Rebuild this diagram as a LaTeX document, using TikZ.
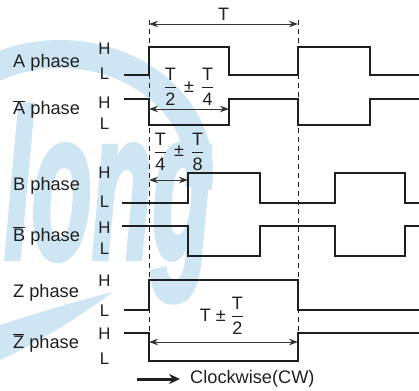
\documentclass[tikz,border=0pt]{standalone}
\usepackage{fontspec}
\setmainfont{Liberation Sans}
\newfontfamily\markfont[FakeBold=3]{Liberation Sans Bold Italic}
\usepackage{xcolor}
\usepackage{tikz}
\usetikzlibrary{arrows.meta}
\definecolor{markcolor}{RGB}{206,229,244}
\colorlet{wavecolor}{black!88}
\colorlet{dimcolor}{black!80}
\newcommand{\barred}[1]{\ensuremath{\overline{\mbox{#1}}}}
\newcommand{\frc}[2]{\ensuremath{{\displaystyle\mbox{\rule[-5pt]{0pt}{13pt}#1}\above1.3pt\mbox{\rule{0pt}{16pt}#2}}}}
\tikzset{
	 wave/.style	 = {draw = wavecolor, line width = 1.8pt}
	,guide/.style	 = {draw = wavecolor, line width = 1pt, dash pattern = on 5pt off 4pt}
	,dim/.style		 = {draw = dimcolor, line width = 0.9pt,
						{Stealth[length=9pt,width=6.5pt]}-{Stealth[length=9pt,width=6.5pt]}}
	,phase/.style	 = {anchor = base west, inner sep = 0pt, text = wavecolor, font = \fontsize{18.2}{20}\selectfont}
	,level/.style	 = {inner sep = 0pt, text = wavecolor, font = \fontsize{16.8}{18}\selectfont}
	,dimlabel/.style = {inner sep = 0pt, text = wavecolor, font = \fontsize{18}{20}\selectfont}
}

\begin{document}
\begin{tikzpicture}[x=1pt, y=-1pt]
	\useasboundingbox (0,0) rectangle (419,390);

	% the watermark
	\begin{scope}[shift={(60,172)}]
		\fill[markcolor] (175:153 and 132) arc [start angle=175, end angle=368, x radius=153, y radius=132]
			-- (368:126 and 104) arc [start angle=368, end angle=175, x radius=126, y radius=104] -- cycle;
	\end{scope}
	\node[anchor = base west, inner sep = 0pt, text = markcolor, xscale = 0.47,
		font = \fontsize{210}{210}\markfont] (brand) at (4,258) {long};
	\fill[markcolor] (0,325) .. controls (40,312) and (80,300) .. (113,292)
		.. controls (80,316) and (40,342) .. (0,360) -- cycle;

	% the guides at the period ends
	\coordinate (g0top) at (149,20);
	\coordinate (g0bot) at (149,333);
	\coordinate (g1top) at (298,20);
	\coordinate (g1bot) at (298,333);
	\draw[guide] (g0top) -- (g0bot);
	\draw[guide] (g1top) -- (g1bot);

	% the phase names
	\node[phase] (pa)  at (13,68)  {A phase};
	\node[phase] (pan) at (13,115) {\barred{A} phase};
	\node[phase] (pb)  at (13,190) {B phase};
	\node[phase] (pbn) at (13,241) {\barred{B} phase};
	\node[phase] (pz)  at (13,297) {Z phase};
	\node[phase] (pzn) at (13,348) {\barred{Z} phase};

	% the levels
	\foreach \y/\t in {49/H, 74/L, 103/H, 124/L, 173/H, 202/L, 228/H, 249/L, 281/H, 311/L, 334/H, 359/L}{
		\node[level] (lv\y) at (104.5,\y) {\t};
	}

	% the waveforms
	\draw[wave] (124,75) -- (149,75) -- (149,47) -- (229,47) -- (229,75) -- (298,75) -- (298,47)
		-- (370,47) -- (370,75) -- (420,75);
	\draw[wave] (124,99) -- (149,99) -- (149,125) -- (229,125) -- (229,99) -- (298,99) -- (298,125)
		-- (370,125) -- (370,99) -- (420,99);
	\draw[wave] (122,203) -- (188,203) -- (188,173) -- (260,173) -- (260,203) -- (335,203) -- (335,173)
		-- (405,173) -- (405,203) -- (420,203);
	\draw[wave] (122,226) -- (188,226) -- (188,256) -- (260,256) -- (260,226) -- (335,226) -- (335,256)
		-- (405,256) -- (405,226) -- (420,226);
	\draw[wave] (124,310) -- (149,310) -- (149,280) -- (298,280) -- (298,310) -- (420,310);
	\draw[wave] (124,333) -- (149,333) -- (149,361) -- (298,361) -- (298,333) -- (420,333);

	% the timings
	\coordinate (tl) at (149,24);
	\coordinate (tr) at (298,24);
	\draw[dim] (tl) -- node[dimlabel, above = 3pt] (tlab) {T} (tr);

	\coordinate (al) at (149,109);
	\coordinate (ar) at (229,109);
	\draw[dim] (al) -- (ar);
	\node[dimlabel] (alab) at (189,87) {\frc{T}{2}\hspace{7pt}±\hspace{7pt}\frc{T}{4}};

	\coordinate (bl) at (149,180);
	\coordinate (br) at (188,180);
	\draw[dim] (bl) -- (br);
	\node[dimlabel] (blab) at (179,152) {\frc{T}{4}\hspace{7pt}±\hspace{7pt}\frc{T}{8}};

	\coordinate (zl) at (149,342);
	\coordinate (zr) at (298,342);
	\draw[dim] (zl) -- (zr);
	\node[dimlabel] (zlab) at (222,316) {T\hspace{5pt}±\hspace{5pt}\frc{T}{2}};

	% the direction
	\node[phase, anchor = west] (cw) at (190,379) {Clockwise(CW)};
	\coordinate (cwtail) at (137,379);
	\draw[wavecolor, line width = 3pt, -{Stealth[length=11pt,width=10pt]}] (cwtail) -- ([xshift=-10pt]cw.west);
\end{tikzpicture}
\end{document}
